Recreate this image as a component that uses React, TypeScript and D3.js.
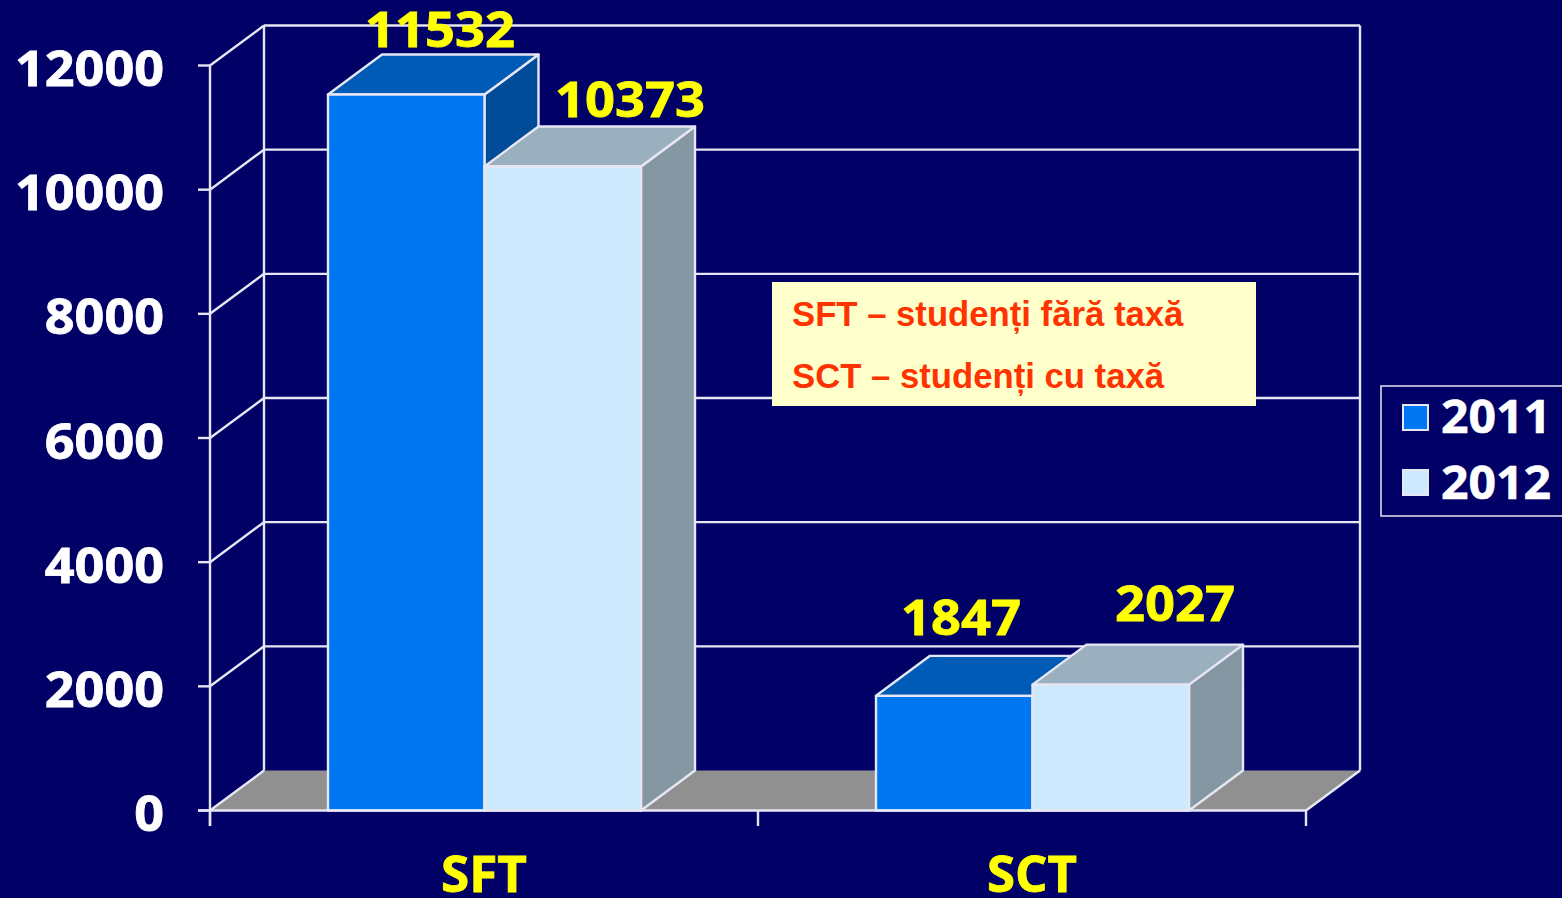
import React from "react";
import * as d3 from "d3";

const categories = ["SFT", "SCT"];
const seriesNames = ["2011", "2012"];
const values2011 = [11532, 1847];
const values2012 = [10373, 2027];
const yTicks = [0, 2000, 4000, 6000, 8000, 10000, 12000];
const noteLines = ["SFT – studenți fără taxă", "SCT – studenți cu taxă"];

const W = 1562, H = 898;
const DX = 54, DY = -40;
const BG = "#000066", LINE = "#e6e6f5";
const faceColors: Record<string, { front: string; top: string; side: string }> = {
  "2011": { front: "#0077f2", top: "#005bb6", side: "#004c99" },
  "2012": { front: "#cde9fd", top: "#9bb0be", side: "#8497a3" },
};
const labelFont = "'Open Sans', 'Noto Sans', sans-serif";

const y = d3.scaleLinear().domain([0, 12000]).range([810.5, 65.5]);
const x0 = d3.scaleBand<string>().domain(categories).range([210, 1306]);
const x1 = d3.scaleBand<string>().domain(seriesNames).range([118, 431]);
const valuesOf = (s: string) => (s === "2011" ? values2011 : values2012);

const labelPos: Record<string, [number, number]> = {
  "SFT2011": [440, 47], "SFT2012": [630, 117],
  "SCT2011": [961, 635], "SCT2012": [1175, 621],
};
const categoryWidths: Record<string, number> = { SFT: 86, SCT: 90 };

const poly = (pts: [number, number][]) => pts.map((p) => p.join(",")).join(" ");

export default function App() {
  const base = y(0);
  return (
    <svg width={W} height={H} viewBox={`0 0 ${W} ${H}`}
      style={{ position: "absolute", left: 0, top: 0, display: "block", background: BG }}>
      <rect width={W} height={H} fill={BG} />
      <polygon fill="#909090" points={poly([[210, base], [1306, base], [1306 + DX, base + DY], [210 + DX, base + DY]])} />
      <g stroke={LINE} strokeWidth={2.4} fill="none">
        {yTicks.map((t) => (
          <g key={t}>
            <line x1={198} x2={210} y1={y(t)} y2={y(t)} />
            <line x1={210} x2={210 + DX} y1={y(t)} y2={y(t) + DY} />
            {t > 0 && <line x1={210 + DX} x2={1306 + DX} y1={y(t) + DY} y2={y(t) + DY} />}
          </g>
        ))}
        <line x1={210} x2={210} y1={y(12000)} y2={826} />
        <line x1={210 + DX} x2={210 + DX} y1={y(12000) + DY} y2={base + DY} />
        <line x1={1306 + DX} x2={1306 + DX} y1={y(12000) + DY} y2={base + DY} />
        <line x1={1306} x2={1306 + DX} y1={base} y2={base + DY} />
        {[210, 758, 1306].map((v) => <line key={v} x1={v} x2={v} y1={base} y2={826} />)}
      </g>
      {categories.map((c, ci) =>
        seriesNames.map((s) => {
          const v = valuesOf(s)[ci];
          const l = x0(c)! + x1(s)!;
          const r = l + x1.bandwidth();
          const t = y(v);
          const col = faceColors[s];
          return (
            <g key={c + s} stroke={LINE} strokeWidth={2.4} strokeLinejoin="round">
              <polygon fill={col.side} points={poly([[r, t], [r + DX, t + DY], [r + DX, base + DY], [r, base]])} />
              <polygon fill={col.top} points={poly([[l, t], [r, t], [r + DX, t + DY], [l + DX, t + DY]])} />
              <rect x={l} y={t} width={r - l} height={base - t} fill={col.front} />
            </g>
          );
        })
      )}
      <line x1={198} x2={1306} y1={base} y2={base} stroke={LINE} strokeWidth={2.4} />
      <g fontFamily={labelFont} fontWeight={700} fontSize={49} fill="#ffffff" textAnchor="end" stroke="#ffffff" strokeWidth={0.8}>
        {yTicks.map((t) => (
          <text key={t} x={164} y={y(t) + 20.5} textLength={String(t).length * 29.8} lengthAdjust="spacingAndGlyphs">{t}</text>
        ))}
      </g>
      <g fontFamily={labelFont} fontWeight={700} fontSize={50} fill="#ffff00" textAnchor="middle" stroke="#ffff00" strokeWidth={0.8}>
        {categories.map((c) => (
          <text key={c} x={x0(c)! + x0.bandwidth() / 2} y={892} textLength={categoryWidths[c]} lengthAdjust="spacingAndGlyphs">{c}</text>
        ))}
      </g>
      <g fontFamily={labelFont} fontWeight={700} fontSize={49} fill="#ffff00" textAnchor="middle" stroke="#ffff00" strokeWidth={0.8}>
        {categories.map((c, ci) =>
          seriesNames.map((s) => {
            const [lx, ly] = labelPos[c + s];
            const v = valuesOf(s)[ci];
            return <text key={c + s} x={lx} y={ly} textLength={String(v).length * 30} lengthAdjust="spacingAndGlyphs">{v}</text>;
          })
        )}
      </g>
      <rect x={772} y={282} width={484} height={124} fill="#ffffcc" />
      <g fontFamily="'Liberation Sans', Arial, sans-serif" fontWeight={700} fontSize={34.7} fill="#ff3300">
        {noteLines.map((n, i) => (
          <text key={n} x={792} y={326 + i * 62}>{n}</text>
        ))}
      </g>
      <rect x={1381} y={386} width={200} height={130} fill="none" stroke={LINE} strokeWidth={1.5} />
      {seriesNames.map((s, i) => (
        <g key={s}>
          <rect x={1403} y={405 + i * 65} width={25} height={25} fill={faceColors[s].front} stroke={LINE} strokeWidth={2} />
          <text x={1441} y={433 + i * 66} fontFamily={labelFont} fontWeight={700} fontSize={47} fill="#ffffff"
            stroke="#ffffff" strokeWidth={0.6} textLength={110} lengthAdjust="spacingAndGlyphs">{s}</text>
        </g>
      ))}
    </svg>
  );
}
